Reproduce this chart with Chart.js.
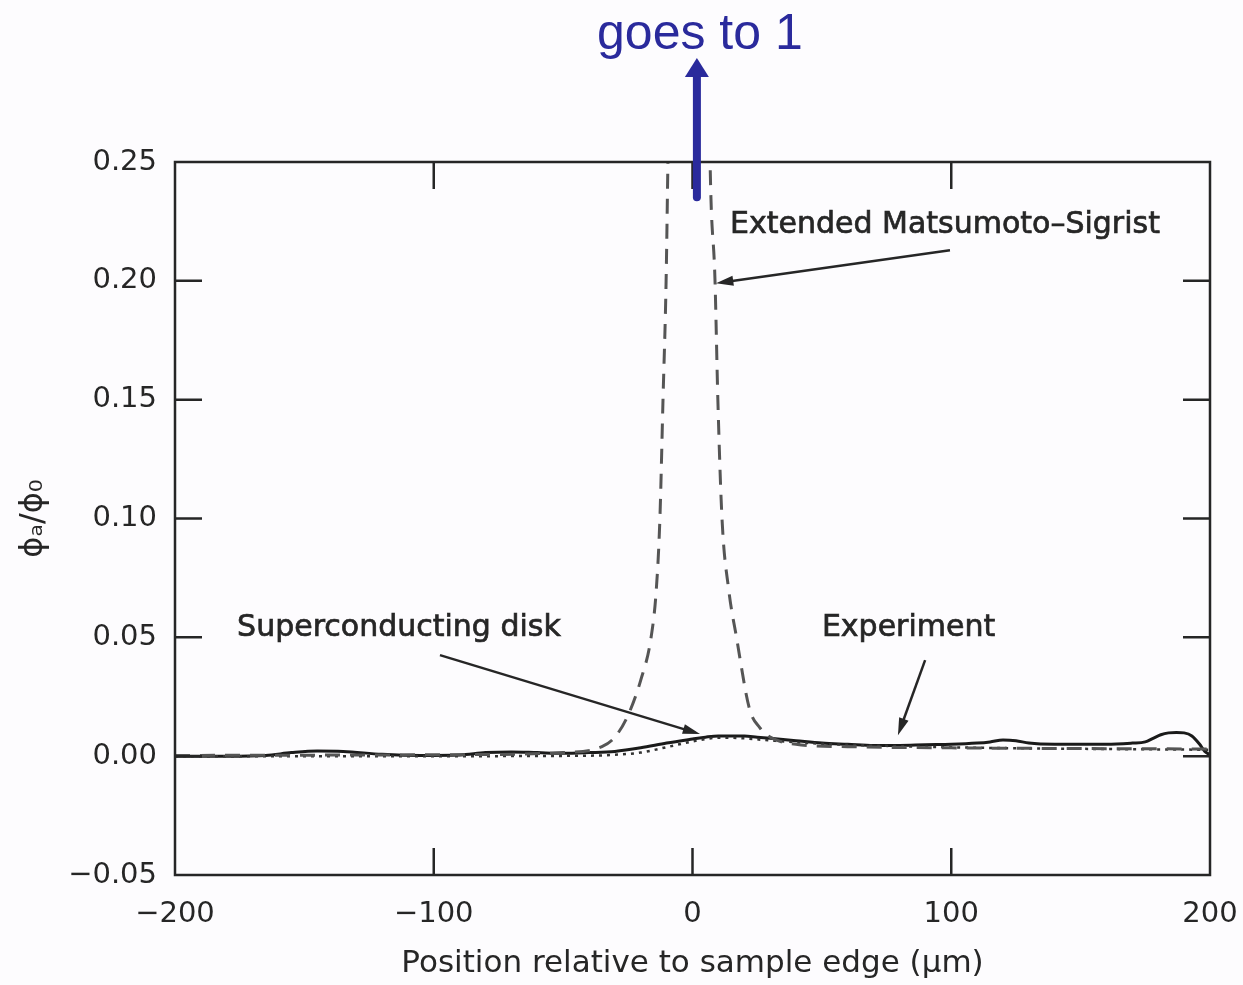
<!DOCTYPE html>
<html>
<head>
<meta charset="utf-8">
<script src="https://cdn.jsdelivr.net/npm/chart.js@4.4.1/dist/chart.umd.min.js"></script>
<style>
  html, body { margin: 0; padding: 0; background: #fdfcfe; }
  #wrap { width: 1243px; height: 985px; }
</style>
</head>
<body>
<div id="wrap"><canvas id="fluxChart"></canvas></div>
<script>
// tick labels
const xTickLabels = ['\u2212200', '\u2212100', '0', '100', '200'];
const yTickLabels = ['\u22120.05', '0.00', '0.05', '0.10', '0.15', '0.20', '0.25'];

// Experiment (solid)
const expX = [-200, -180, -165, -155, -145, -135, -120, -105, -90, -80, -70, -60, -50, -40, -30, -20, -10, 0, 5, 10, 15, 20, 25, 30, 40, 50, 60, 70, 80, 90, 100, 110, 115, 120, 125, 130, 140, 150, 160, 170, 175, 178, 181, 184, 187, 190, 193, 196, 198, 200];
const expY = [0.0, 0.0, 0.0003, 0.0015, 0.0022, 0.002, 0.0008, 0.0003, 0.0005, 0.0015, 0.0018, 0.0015, 0.0012, 0.0015, 0.002, 0.0035, 0.0055, 0.0072, 0.008, 0.0085, 0.0085, 0.0085, 0.008, 0.0075, 0.0065, 0.0055, 0.005, 0.0045, 0.0045, 0.0048, 0.005, 0.0055, 0.006, 0.0068, 0.0065, 0.0055, 0.005, 0.005, 0.005, 0.0055, 0.006, 0.0075, 0.009, 0.0098, 0.01, 0.0098, 0.0085, 0.005, 0.002, 0.0005];

// Superconducting disk (dotted)
const diskX = [-200, -100, -40, -30, -20, -10, 0, 5, 10, 20, 30, 50, 80, 120, 160, 200];
const diskY = [0.0, 0.0, 0.0002, 0.0006, 0.0015, 0.0038, 0.0062, 0.0072, 0.0078, 0.0075, 0.0066, 0.0052, 0.0042, 0.0034, 0.003, 0.0027];

// Extended Matsumoto-Sigrist (dashed)
const msX = [-200, -100, -50, -35, -30, -25, -20, -16, -14, -12.6, -11.4, -10.2, -9.5, -8, -5, -2, 0, 2, 4, 6.8, 8.7, 9.8, 11.4, 14, 17, 22, 26, 30, 40, 60, 100, 200];
const msY = [0.0003, 0.0006, 0.0015, 0.004, 0.008, 0.017, 0.032, 0.05, 0.07, 0.1, 0.15, 0.2, 0.25, 0.35, 0.6, 0.9, 1.0, 0.8, 0.5, 0.25, 0.2, 0.15, 0.1, 0.07, 0.05, 0.02, 0.012, 0.008, 0.005, 0.004, 0.0035, 0.003];

function pts(xs, ys) { return xs.map((x, i) => ({ x: x, y: ys[i] })); }

const axisFont = '"DejaVu Sans", "Liberation Sans", sans-serif';
const ink = '#262626';

const framePlugin = {
  id: 'frame',
  afterDatasetsDraw(chart) {
    const ctx = chart.ctx;
    const a = chart.chartArea;
    const xs = chart.scales.x, ys = chart.scales.y;
    ctx.save();
    ctx.strokeStyle = ink;
    ctx.lineWidth = 2.5;
    ctx.strokeRect(a.left, a.top, a.right - a.left, a.bottom - a.top);
    // inward ticks
    const tl = 27;
    xs.ticks.forEach(t => {
      if (t.value <= xs.min || t.value >= xs.max) return;
      const px = xs.getPixelForValue(t.value);
      ctx.beginPath();
      ctx.moveTo(px, a.bottom); ctx.lineTo(px, a.bottom - tl);
      ctx.moveTo(px, a.top); ctx.lineTo(px, a.top + tl);
      ctx.stroke();
    });
    ys.ticks.forEach(t => {
      if (t.value <= ys.min + 1e-9 || t.value >= ys.max - 1e-9) return;
      const py = ys.getPixelForValue(t.value);
      ctx.beginPath();
      ctx.moveTo(a.left, py); ctx.lineTo(a.left + tl, py);
      ctx.moveTo(a.right, py); ctx.lineTo(a.right - tl, py);
      ctx.stroke();
    });

    // annotations
    const arrow = (x0, y0, x1, y1, color, w, head) => {
      const p0 = [xs.getPixelForValue(x0), ys.getPixelForValue(y0)];
      const p1 = [xs.getPixelForValue(x1), ys.getPixelForValue(y1)];
      const ang = Math.atan2(p1[1] - p0[1], p1[0] - p0[0]);
      ctx.strokeStyle = color; ctx.fillStyle = color; ctx.lineWidth = w;
      ctx.beginPath();
      ctx.moveTo(p0[0], p0[1]);
      ctx.lineTo(p1[0] - Math.cos(ang) * head * 0.8, p1[1] - Math.sin(ang) * head * 0.8);
      ctx.stroke();
      ctx.beginPath();
      ctx.moveTo(p1[0], p1[1]);
      ctx.lineTo(p1[0] - head * Math.cos(ang - 0.28), p1[1] - head * Math.sin(ang - 0.28));
      ctx.lineTo(p1[0] - head * Math.cos(ang + 0.28), p1[1] - head * Math.sin(ang + 0.28));
      ctx.closePath();
      ctx.fill();
    };
    const label = (txt, x, y) => {
      const px = xs.getPixelForValue(x), py = ys.getPixelForValue(y);
      ctx.fillText(txt, px, py);
      ctx.strokeText(txt, px, py);
    };
    ctx.font = '30px ' + axisFont;
    ctx.fillStyle = ink;
    ctx.strokeStyle = ink;
    ctx.lineWidth = 0.7;
    ctx.textBaseline = 'middle';
    ctx.textAlign = 'left';
    label('Extended Matsumoto\u2013Sigrist', 14.5, 0.2234);
    label('Superconducting disk', -176, 0.0539);
    label('Experiment', 50, 0.0539);
    arrow(99.5, 0.2129, 9.1, 0.199, ink, 2.5, 18);
    arrow(-97.6, 0.0425, 2.9, 0.0093, ink, 2.5, 18);
    arrow(89.9, 0.0404, 79.4, 0.0088, ink, 2.5, 18);

    // blue "goes to 1" arrow
    const bx = xs.getPixelForValue(1.7);
    const by = ys.getPixelForValue(0.2352);
    const tipY = a.top - 104;
    ctx.strokeStyle = '#2a2a9c'; ctx.fillStyle = '#2a2a9c';
    ctx.lineWidth = 8;
    ctx.lineCap = 'round';
    ctx.beginPath();
    ctx.moveTo(bx, by); ctx.lineTo(bx, tipY + 14);
    ctx.stroke();
    ctx.beginPath();
    ctx.moveTo(bx, tipY);
    ctx.lineTo(bx - 12, tipY + 19);
    ctx.lineTo(bx + 12, tipY + 19);
    ctx.closePath();
    ctx.fill();
    ctx.font = '50px "Liberation Sans", Arial, sans-serif';
    ctx.textAlign = 'center';
    ctx.textBaseline = 'alphabetic';
    ctx.fillText('goes to 1', bx + 3, 49);
    ctx.restore();
  }
};

const ctx = document.getElementById('fluxChart').getContext('2d');
const chart = new Chart(ctx, {
  type: 'line',
  data: {
    datasets: [
      {
        label: 'Extended Matsumoto-Sigrist',
        data: pts(msX, msY),
        borderColor: '#555555',
        borderWidth: 3,
        borderDash: [15, 10],
        pointRadius: 0,
        cubicInterpolationMode: 'monotone'
      },
      {
        label: 'Superconducting disk',
        data: pts(diskX, diskY),
        borderColor: '#333333',
        borderWidth: 2.5,
        borderDash: [3, 5],
        pointRadius: 0,
        cubicInterpolationMode: 'monotone'
      },
      {
        label: 'Experiment',
        data: pts(expX, expY),
        borderColor: '#1a1a1a',
        borderWidth: 3,
        pointRadius: 0,
        cubicInterpolationMode: 'monotone'
      }
    ]
  },
  options: {
    responsive: true,
    maintainAspectRatio: false,
    animation: false,
    layout: { padding: { left: 0, top: 162, right: 33, bottom: 0 } },
    plugins: { legend: { display: false }, tooltip: { enabled: false } },
    scales: {
      x: {
        type: 'linear',
        min: -200, max: 200,
        afterFit: s => { s.height = 110; s.paddingLeft = 0; s.paddingRight = 0; },
        grid: { display: false, drawTicks: false },
        border: { display: false },
        ticks: {
          stepSize: 100,
          padding: 22,
          color: ink,
          font: { family: axisFont, size: 29 },
          maxRotation: 0,
          callback: (v, i) => xTickLabels[i]
        },
        title: {
          display: true,
          text: 'Position relative to sample edge (\u00b5m)',
          color: ink,
          font: { family: axisFont, size: 31 },
          padding: { top: 0, bottom: 2 }
        }
      },
      y: {
        type: 'linear',
        min: -0.05, max: 0.25,
        afterFit: s => { s.width = 175; s.paddingTop = 0; s.paddingBottom = 0; },
        grid: { display: false, drawTicks: false },
        border: { display: false },
        ticks: {
          stepSize: 0.05,
          padding: 18,
          color: ink,
          font: { family: axisFont, size: 29 },
          callback: (v, i) => yTickLabels[i]
        },
        title: {
          display: true,
          text: '\u03d5\u2090/\u03d5\u2080',
          color: ink,
          font: { family: axisFont, size: 32 },
          padding: { top: 14, bottom: 0 }
        }
      }
    }
  },
  plugins: [framePlugin]
});
</script>
</body>
</html>
